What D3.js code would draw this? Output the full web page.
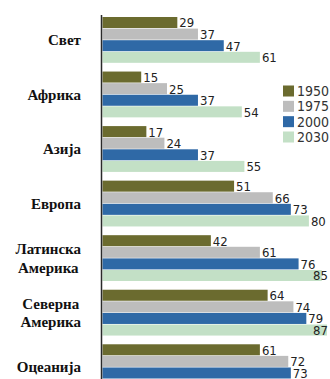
<!DOCTYPE html>
<html>
<head>
<meta charset="utf-8">
<script src="https://cdn.jsdelivr.net/npm/d3@7"></script>
<style>
  html, body { margin: 0; padding: 0; background: #fff; }
  svg { display: block; }
</style>
</head>
<body>
<svg id="chart" width="330" height="379"></svg>
<script>
// Regions (each label may break into lines)
const regions = [
  ["Свет"],
  ["Африка"],
  ["Азија"],
  ["Европа"],
  ["Латинска", "Америка"],
  ["Северна", "Америка"],
  ["Оцеанија"]
];
const years = ["1950", "1975", "2000", "2030"];

// Urban share (%) per region for each year
const v1950 = [29, 15, 17, 51, 42, 64, 61];
const v1975 = [37, 25, 24, 66, 61, 74, 72];
const v2000 = [47, 37, 37, 73, 76, 79, 73];
const v2030 = [61, 54, 55, 80, 85, 87, 75];

const seriesValues = [v1950, v1975, v2000, v2030];
const colors = ["#6b6b2f", "#bdbdbd", "#2f69a6", "#c3e0c6"];

const W = 330, H = 379;
const svg = d3.select("#chart");

const keys = regions.map(r => r.join(" "));

// One band per region, four bars inside each band
const y = d3.scaleBand()
  .domain(keys)
  .range([17, 17 + 7 * 53.3])
  .paddingInner(0.16)
  .paddingOuter(0)
  .align(0);

const yInner = d3.scaleBand()
  .domain(years)
  .range([0, y.bandwidth()])
  .paddingInner(0.05);

const x = d3.scaleLinear().domain([0, 100]).range([102.5, 360.5]);

const rows = [];
keys.forEach((k, i) => {
  years.forEach((yr, j) => {
    rows.push({ region: k, year: yr, value: seriesValues[j][i], color: colors[j] });
  });
});

// Bars
svg.append("g").selectAll("rect")
  .data(rows)
  .join("rect")
  .attr("x", x(0))
  .attr("y", d => y(d.region) + yInner(d.year))
  .attr("width", d => x(d.value) - x(0))
  .attr("height", yInner.bandwidth())
  .attr("fill", d => d.color);

// Value labels at bar ends, kept inside the frame
const valueLabels = svg.append("g")
  .attr("font-family", "'DejaVu Sans Condensed', 'DejaVu Sans', sans-serif")
  .attr("font-size", 13)
  .attr("fill", "#222")
  .selectAll("text")
  .data(rows)
  .join("text")
  .attr("y", d => y(d.region) + yInner(d.year) + yInner.bandwidth() / 2)
  .attr("dy", "0.38em")
  .text(d => d.value);

valueLabels.each(function (d) {
  const w = this.getComputedTextLength();
  const px = Math.min(x(d.value) + 2, W - 2 - w);
  d3.select(this).attr("x", px);
});

// Vertical axis line
svg.append("line")
  .attr("x1", 101.5).attr("x2", 101.5)
  .attr("y1", 15).attr("y2", H)
  .attr("stroke", "#2a2a2a")
  .attr("stroke-width", 1.5);

// Region names on the left
const lineGap = 18.5;
const catG = svg.append("g")
  .attr("font-family", "'Liberation Serif', 'Times New Roman', serif")
  .attr("font-weight", "bold")
  .attr("font-size", 15)
  .attr("fill", "#111");

regions.forEach((lines, i) => {
  const key = keys[i];
  const cy = y(key) + y.bandwidth() / 2;
  const g = catG.append("g");
  const texts = lines.map((ln, li) =>
    g.append("text")
      .attr("text-anchor", "middle")
      .attr("y", cy + (li - (lines.length - 1) / 2) * lineGap)
      .attr("dy", "0.35em")
      .text(ln)
  );
  const maxW = d3.max(texts, t => t.node().getComputedTextLength());
  texts.forEach(t => t.attr("x", 81 - maxW / 2));
});

// Legend
const legend = svg.append("g")
  .attr("font-family", "'DejaVu Sans Condensed', 'DejaVu Sans', sans-serif")
  .attr("font-size", 14)
  .attr("fill", "#333");

const ly = d3.scalePoint().domain(years).range([91, 137]);

legend.selectAll("rect")
  .data(years)
  .join("rect")
  .attr("x", 283)
  .attr("y", d => ly(d) - 5.5)
  .attr("width", 11)
  .attr("height", 11)
  .attr("fill", (d, i) => colors[i]);

legend.selectAll("text")
  .data(years)
  .join("text")
  .attr("x", 297)
  .attr("y", d => ly(d))
  .attr("dy", "0.36em")
  .text(d => d);
</script>
</body>
</html>
